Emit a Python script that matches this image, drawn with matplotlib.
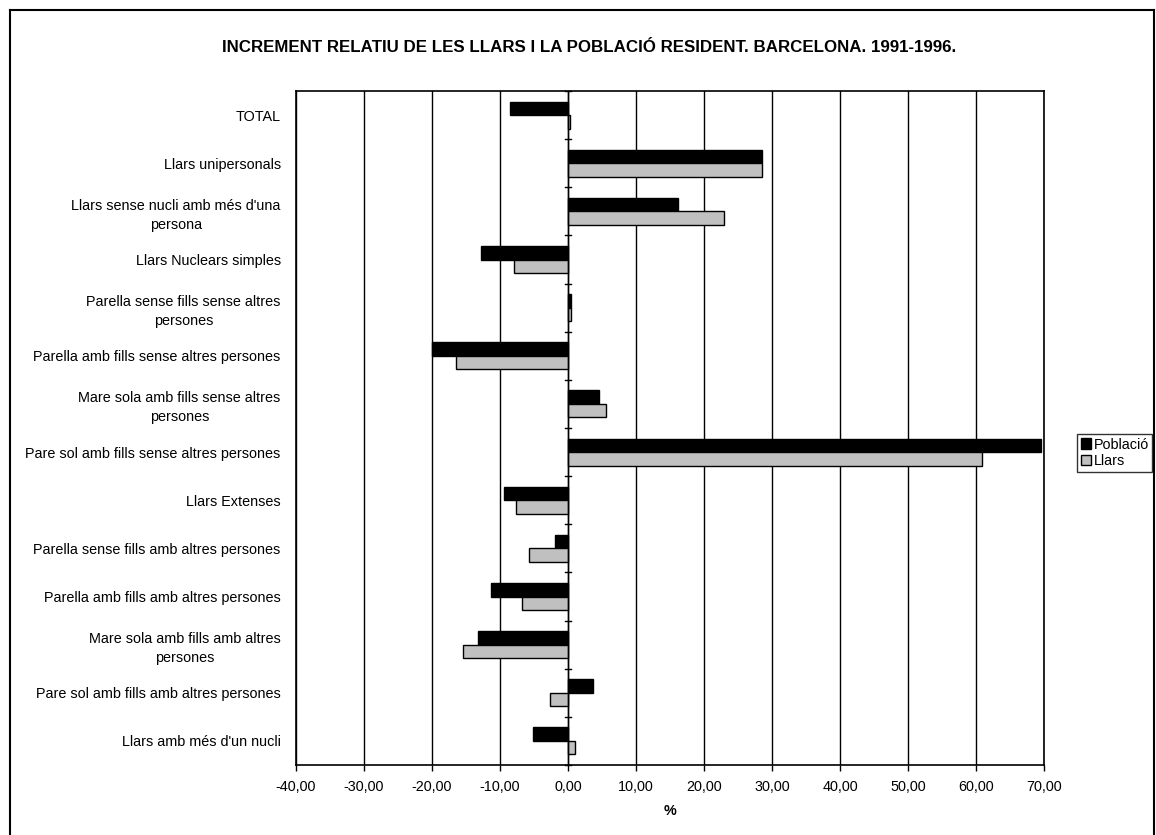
import matplotlib
matplotlib.use('Agg')
import matplotlib.pyplot as plt
import matplotlib.transforms as mtransforms
from matplotlib.lines import Line2D
import numpy as np

plt.rcParams['font.family'] = ['Liberation Sans', 'DejaVu Sans']

# Data (% change 1991-1996)
categories = [
    "TOTAL",
    "Llars unipersonals",
    "Llars sense nucli amb més d'una\npersona",
    "Llars Nuclears simples",
    "Parella sense fills sense altres\npersones",
    "Parella amb fills sense altres persones",
    "Mare sola amb fills sense altres\npersones",
    "Pare sol amb fills sense altres persones",
    "Llars Extenses",
    "Parella sense fills amb altres persones",
    "Parella amb fills amb altres persones",
    "Mare sola amb fills amb altres\npersones",
    "Pare sol amb fills amb altres persones",
    "Llars amb més d'un nucli",
]
poblacio = [-8.5, 28.5, 16.2, -12.8, 0.4, -20.0, 4.6, 69.6, -9.4, -1.9, -11.3, -13.2, 3.7, -5.1]
llars = [0.3, 28.5, 23.0, -7.9, 0.4, -16.5, 5.6, 60.9, -7.7, -5.8, -6.7, -15.4, -2.7, 1.1]
xticks = np.arange(-40, 71, 10)

n = len(categories)
FS = 10.4

fig = plt.figure(figsize=(11.56, 8.35), dpi=100)
W, H = 1156, 835
ax = fig.add_axes([296 / W, 1 - 765 / H, (1044 - 296) / W, (765 - 91) / H])

y = np.arange(n)
h = 0.28
ax.barh(y - h / 2, poblacio, height=h, color='black', edgecolor='black', linewidth=1, label='Població', zorder=3)
ax.barh(y + h / 2, llars, height=h, color='#C0C0C0', edgecolor='black', linewidth=1, label='Llars', zorder=3)

ax.set_xlim(-40, 70)
ax.set_ylim(n - 0.5, -0.5)
ax.set_xticks(xticks)
ax.set_xticklabels([('%.2f' % v).replace('.', ',') for v in xticks], fontsize=FS)
ax.tick_params(axis='x', length=4, width=1, pad=7, direction='out')
ax.set_yticks(y)
ax.set_yticklabels(categories, fontsize=FS)
# two-line labels sit a little above the row centre, like in Excel
shift = mtransforms.ScaledTranslation(0, 5 / 100, fig.dpi_scale_trans)
for lab in ax.get_yticklabels():
    lab.set_multialignment('center')
    lab.set_linespacing(1.45)
    if '\n' in lab.get_text():
        lab.set_transform(lab.get_transform() + shift)
ax.tick_params(axis='y', length=0, pad=11)

ax.grid(axis='x', color='black', linewidth=1, zorder=0)
for s in ax.spines.values():
    s.set_linewidth(1.2)

# y axis crossing at 0 with ticks between categories
ax.axvline(0, color='black', linewidth=1, zorder=4)
for b in np.arange(n + 1) - 0.5:
    ax.plot([-0.45, 0.45], [b, b], color='black', linewidth=1, zorder=4, clip_on=False)

ax.set_xlabel('%', fontsize=FS, fontweight='bold', labelpad=7)

fig.text(589 / W, 1 - 48 / H,
         'INCREMENT RELATIU DE LES LLARS I LA POBLACIÓ RESIDENT. BARCELONA. 1991-1996.',
         ha='center', va='center', fontsize=12.2, fontweight='bold')

handles = [plt.Rectangle((0, 0), 1, 1, facecolor='black', edgecolor='black'),
           plt.Rectangle((0, 0), 1, 1, facecolor='#C0C0C0', edgecolor='black')]
leg = fig.legend(handles, ['Població', 'Llars'], loc='center left',
                 bbox_to_anchor=(1077 / W, 1 - 453 / H), fontsize=FS,
                 frameon=True, fancybox=False, handlelength=0.7, handleheight=0.7,
                 handletextpad=0.2, borderpad=0.25, labelspacing=0.2, borderaxespad=0)
leg.get_frame().set_edgecolor('black')
leg.get_frame().set_linewidth(1)

# outer chart border
for xs, ys in [([10, 10], [10, 835]), ([10, 1154], [10, 10]), ([1154, 1154], [10, 835])]:
    fig.add_artist(Line2D([x / W for x in xs], [1 - v / H for v in ys], color='black', linewidth=1.5))

fig.savefig('out.png', dpi=100)
